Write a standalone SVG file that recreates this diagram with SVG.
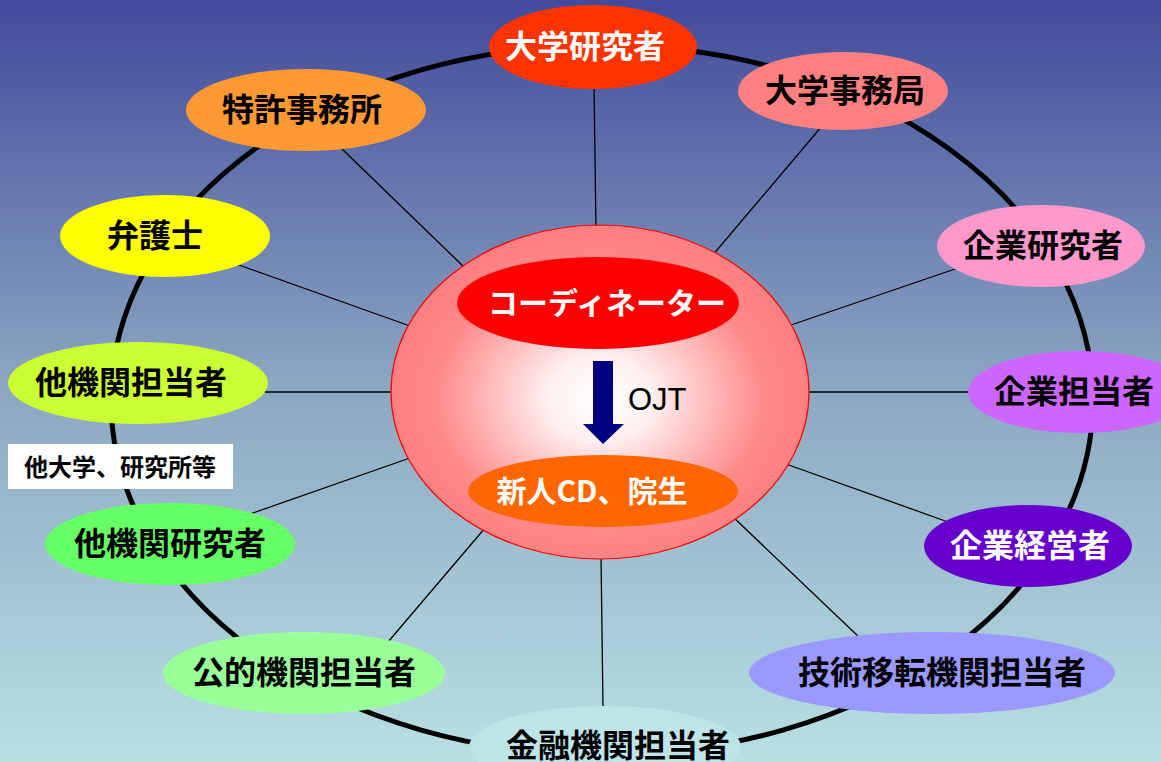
<svg xmlns="http://www.w3.org/2000/svg" width="1161" height="762" viewBox="0 0 1161 762">
<defs>
<linearGradient id="bg" x1="0" y1="0" x2="0" y2="1">
<stop offset="0" stop-color="#424a9c"/>
<stop offset="0.5" stop-color="#8ba6c1"/>
<stop offset="1" stop-color="#b8e0e3"/>
</linearGradient>
<radialGradient id="core" cx="0.5" cy="0.52" r="0.5">
<stop offset="0" stop-color="#ffffff"/>
<stop offset="0.25" stop-color="#fff0f0"/>
<stop offset="0.78" stop-color="#ff8a8a"/>
<stop offset="1" stop-color="#ff8080"/>
</radialGradient>
</defs>
<style>
.t{font-family:"Noto Sans CJK JP","Noto Sans CJK SC",sans-serif;font-weight:bold;font-size:32px;text-anchor:middle;fill:#000}
.w{fill:#fff}
.c line{stroke:#000;stroke-width:1.3}
</style>
<rect width="1161" height="762" fill="url(#bg)"/>
<ellipse id="ring" cx="602" cy="400" rx="491" ry="355" fill="none" stroke="#000" stroke-width="5"/>
<g id="connectors" class="c">
<line x1="596" y1="230" x2="594" y2="85"/>
<line x1="712" y1="256" x2="822" y2="126"/>
<line x1="465" y1="268" x2="340" y2="147"/>
<line x1="410" y1="326" x2="236" y2="264"/>
<line x1="788" y1="326" x2="958" y2="268"/>
<line x1="395" y1="392" x2="265" y2="392"/>
<line x1="805" y1="392" x2="972" y2="392"/>
<line x1="410" y1="458" x2="250" y2="514"/>
<line x1="786" y1="464" x2="948" y2="522"/>
<line x1="485" y1="528" x2="388" y2="642"/>
<line x1="732" y1="516" x2="860" y2="638"/>
<line x1="601" y1="555" x2="603" y2="708"/>
</g>
<g id="center">
<ellipse cx="600" cy="392" rx="209" ry="167" fill="url(#core)" stroke="#ff0000" stroke-width="1.2"/>
<g id="coordinator">
<ellipse cx="598" cy="303" rx="141" ry="46" fill="#ff0000"/>
<text class="t w" x="607" y="314" style="font-size:30px">コーディネーター</text>
</g>
<g id="arrow">
<polygon points="593,361 613,361 613,424 624,424 603,444 583,424 593,424" fill="#000080"/>
<text x="628" y="410" font-family="Liberation Sans, Arial, sans-serif" font-size="31" fill="#000">OJT</text>
</g>
<g id="newcd">
<ellipse cx="603" cy="491" rx="135" ry="36" fill="#ff6600"/>
<text class="t w" x="592" y="502" style="font-size:30px">新人CD、院生</text>
</g>
</g>
<g id="n1"><ellipse cx="593" cy="47" rx="104" ry="42" fill="#ff3300"/><text class="t w" x="585" y="58">大学研究者</text></g>
<g id="n2"><ellipse cx="843" cy="91" rx="105" ry="39" fill="#ff8080"/><text class="t" x="845" y="102">大学事務局</text></g>
<g id="n3"><ellipse cx="306" cy="110" rx="120" ry="41" fill="#ff9933"/><text class="t" x="302" y="121">特許事務所</text></g>
<g id="n4"><ellipse cx="165" cy="236" rx="105" ry="41" fill="#ffff00"/><text class="t" x="155" y="247">弁護士</text></g>
<g id="n5"><ellipse cx="1041" cy="246" rx="104" ry="41" fill="#ff99cc"/><text class="t" x="1043" y="257">企業研究者</text></g>
<g id="n6"><ellipse cx="138" cy="383" rx="130" ry="41" fill="#ccff33"/><text class="t" x="131" y="394">他機関担当者</text></g>
<g id="n7"><ellipse cx="1080" cy="392" rx="112" ry="41" fill="#cc66ff"/><text class="t" x="1074" y="403">企業担当者</text></g>
<g id="note"><rect x="8" y="444" width="225" height="45" fill="#fff"/><text class="t" x="120" y="476" style="font-size:24px">他大学、研究所等</text></g>
<g id="n8"><ellipse cx="170" cy="544" rx="125" ry="41" fill="#66ff66"/><text class="t" x="170" y="555">他機関研究者</text></g>
<g id="n9"><ellipse cx="1028" cy="546" rx="104" ry="41" fill="#6600cc"/><text class="t w" x="1030" y="557">企業経営者</text></g>
<g id="n10"><ellipse cx="304" cy="673" rx="141" ry="41" fill="#99ff99"/><text class="t" x="304" y="684">公的機関担当者</text></g>
<g id="n11"><ellipse cx="932" cy="673" rx="183" ry="41" fill="#9999ff"/><text class="t" x="942" y="684">技術移転機関担当者</text></g>
<g id="n12"><ellipse cx="605" cy="747" rx="136" ry="41" fill="#bde4e7"/><text class="t" x="618" y="757">金融機関担当者</text></g>
</svg>
